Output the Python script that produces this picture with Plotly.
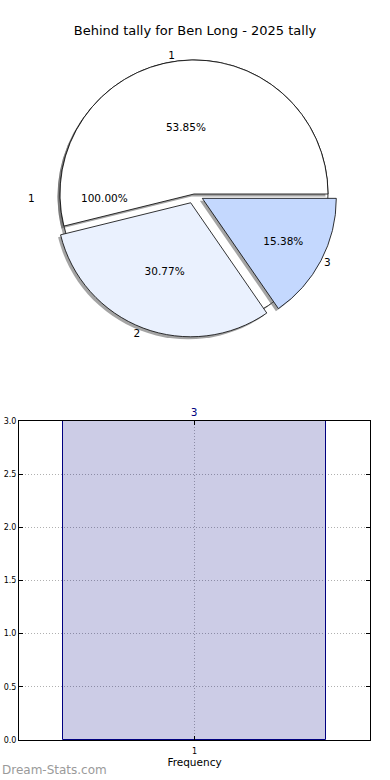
import plotly.graph_objects as go

# ---------------- data ----------------
chart_title = "Behind tally for Ben Long - 2025 tally"
pie_labels = ["1", "2", "3"]
pie_values = [7, 4, 2]          # 53.85 %, 30.77 %, 15.38 %
bg_labels = ["1"]               # underlying single-category pie (100 %)
bg_values = [3]
bar_categories = [1]
bar_values = [3]
y_ticks = [0.0, 0.5, 1.0, 1.5, 2.0, 2.5, 3.0]
watermark = "Dream-Stats.com"

# ---------------- geometry helpers ----------------
W, H = 390, 780
CX, CY, R = 194, 194, 134
PULL = 0.07
FONT = "DejaVu Sans"


def dom(half, dx=0.0, dy=0.0):
    return dict(
        x=[(CX + dx - half) / W, (CX + dx + half) / W],
        y=[1 - (CY + dy + half) / H, 1 - (CY + dy - half) / H],
    )


total = sum(pie_values)
rot_main = 90 - 360.0 * pie_values[0] / total
pulls = [0, PULL, PULL]
shadow = "rgba(90,90,90,0.55)"

fig = go.Figure()

# shadow of the background pie
fig.add_trace(go.Pie(
    labels=bg_labels, values=bg_values, sort=False, direction="counterclockwise",
    rotation=90, domain=dom(R, -2.5, 2.5), marker=dict(colors=[shadow]),
    textinfo="none", hoverinfo="skip", showlegend=False))
# background pie (100 %)
fig.add_trace(go.Pie(
    labels=bg_labels, values=bg_values, sort=False, direction="counterclockwise",
    rotation=90, domain=dom(R), marker=dict(colors=["#ffffff"], line=dict(color="black", width=0.8)),
    textinfo="none", hoverinfo="skip", showlegend=False))
# shadow of main pie
fig.add_trace(go.Pie(
    labels=pie_labels, values=pie_values, sort=False, direction="counterclockwise",
    rotation=rot_main, pull=pulls, domain=dom(R * (1 + PULL), -2.5, 2.5),
    marker=dict(colors=[shadow] * 3), textinfo="none", hoverinfo="skip", showlegend=False))
# main pie
fig.add_trace(go.Pie(
    labels=pie_labels, values=pie_values, sort=False, direction="counterclockwise",
    rotation=rot_main, pull=pulls, domain=dom(R * (1 + PULL)),
    marker=dict(colors=["#ffffff", "#eaf1fe", "#c4d8fe"], line=dict(color="black", width=0.8)),
    texttemplate="%{percent:.2%}", textposition="inside", insidetextorientation="horizontal",
    insidetextfont=dict(family=FONT, size=10.5, color="black"),
    hoverinfo="skip", showlegend=False))
# outside labels for main pie
fig.add_trace(go.Pie(
    labels=pie_labels, values=pie_values, sort=False, direction="counterclockwise",
    rotation=rot_main, pull=pulls, domain=dom(R * (1 + PULL)),
    marker=dict(colors=["rgba(0,0,0,0)"] * 3, line=dict(width=0)),
    texttemplate="%{label}", textposition="outside",
    outsidetextfont=dict(family=FONT, size=10.5, color="black"),
    hoverinfo="skip", showlegend=False))

# label and percentage of the background pie (mid angle = west)
bg_pct = 100.0 * bg_values[0] / sum(bg_values)
fig.add_annotation(
    x=(CX - 1.21 * R) / W, y=1 - (CY + 4) / H, xref="paper", yref="paper",
    xanchor="center", yanchor="middle",
    text=bg_labels[0], showarrow=False, font=dict(family=FONT, size=10.5, color="black"))
fig.add_annotation(
    x=(CX - 0.67 * R) / W, y=1 - (CY + 4) / H, xref="paper", yref="paper",
    xanchor="center", yanchor="middle",
    text=f"{bg_pct:.2f}%", showarrow=False, font=dict(family=FONT, size=10.5, color="black"))

# ---------------- bar chart ----------------
fig.add_trace(go.Bar(
    x=bar_categories, y=bar_values, width=0.8,
    marker=dict(color="rgba(0,0,128,0.2)", line=dict(color="#000080", width=1)),
    text=[str(v) for v in bar_values], textposition="outside", cliponaxis=False,
    outsidetextfont=dict(family=FONT, size=10.5, color="#000080"),
    hoverinfo="skip", showlegend=False))

axis_common = dict(
    showline=True, linecolor="black", linewidth=1, mirror="ticks",
    ticks="inside", ticklen=4, tickcolor="black",
    showgrid=True, gridcolor="#b0b0b0", griddash="1px,2px", gridwidth=1,
    zeroline=False, tickfont=dict(family=FONT, size=8, color="black"),
    automargin=False,
)

fig.update_layout(
    width=W, height=H,
    margin=dict(l=0, r=0, t=0, b=0),
    paper_bgcolor="white", plot_bgcolor="white",
    title=dict(text=chart_title, x=0.5, xanchor="center", y=1 - 30 / H, yanchor="middle",
               font=dict(family=FONT, size=13, color="black")),
    xaxis=dict(domain=[19 / W, 370 / W], range=[0.468, 1.532],
               tickvals=bar_categories, ticktext=[str(c) for c in bar_categories],
               ticklabelstandoff=3,
               title=dict(text="Frequency", font=dict(family=FONT, size=10.5, color="black"), standoff=3),
               **axis_common),
    yaxis=dict(domain=[1 - 740 / H, 1 - 421 / H], range=[0, 3],
               tickvals=y_ticks, tickformat=".1f", **axis_common),
    bargap=0,
)

fig.add_annotation(
    x=0, y=1 - 770 / H, xref="paper", yref="paper", xanchor="left", yanchor="middle",
    text=watermark, showarrow=False, font=dict(family=FONT, size=12, color="#9a9a9a"))

fig.write_html("out.html", config={"displayModeBar": False},
               post_script="document.body.style.margin='0';")
